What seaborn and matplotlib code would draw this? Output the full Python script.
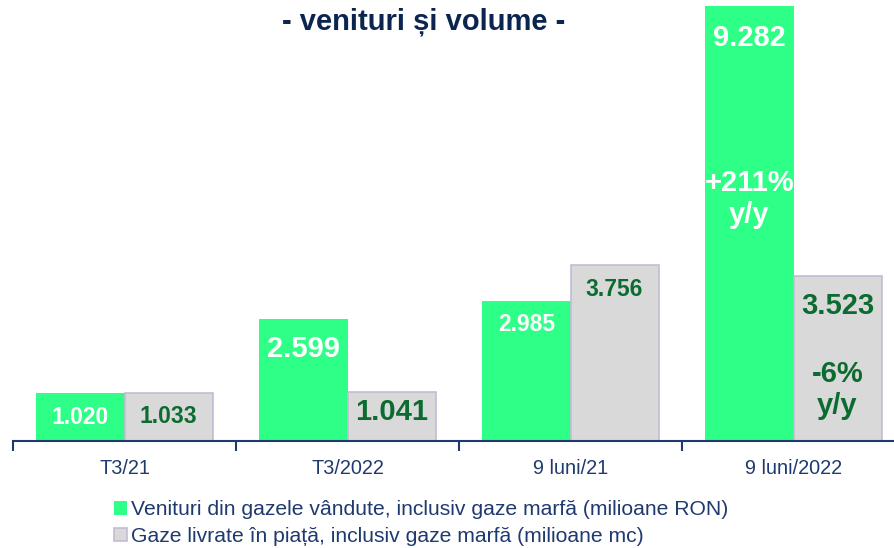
import matplotlib
matplotlib.use("Agg")
import matplotlib.pyplot as plt
import seaborn as sns
import pandas as pd
from matplotlib.patches import Patch

# --- Data ---
CATEGORIES = ["T3/21", "T3/2022", "9 luni/21", "9 luni/2022"]
SERIES = [
    "Venituri din gazele vândute, inclusiv gaze marfă (milioane RON)",
    "Gaze livrate în piață, inclusiv gaze marfă (milioane mc)",
]
revenue = [1020, 2599, 2985, 9282]
volume = [1033, 1041, 3756, 3523]
change_labels = ["+211%\ny/y", "-6%\ny/y"]
TITLE = "- venituri și volume -"

# --- Style ---
GREEN = "#2dff87"
GREY = "#d9d9d9"
GREY_EDGE = "#c4bcd4"
NAVY = "#1f3a6e"
TITLE_NAVY = "#0b2550"
DARK_GREEN = "#0b6b30"
BIG = 21
SMALL = 16.5
# font size and offset (px below bar top) per label
green_style = [(SMALL, 24), (BIG, 30), (SMALL, 24), (BIG, 32)]
grey_style = [(SMALL, 24), (BIG, 20), (SMALL, 25), (BIG, 30)]

sns.set_theme(style="white")
plt.rcParams["font.family"] = ["Liberation Sans", "DejaVu Sans"]

df = pd.DataFrame({
    "cat": CATEGORIES * 2,
    "series": [SERIES[0]] * 4 + [SERIES[1]] * 4,
    "value": revenue + volume,
})

fig = plt.figure(figsize=(8.94, 5.48), dpi=100)
ax = fig.add_axes([13 / 894, 107 / 548, 892 / 894, 441 / 548])

sns.barplot(data=df, x="cat", y="value", hue="series", order=CATEGORIES,
            hue_order=SERIES, palette=[GREEN, GREY], width=0.79,
            saturation=1, legend=False, ax=ax)

for bar in ax.containers[1]:
    bar.set_edgecolor(GREY_EDGE)
    bar.set_linewidth(1.2)
for bar in ax.containers[0]:
    bar.set_linewidth(0)

ax.set_xlim(-0.5, 3.5)
ax.set_ylim(0, 9400)

# value labels
for bars, vals, styles, color in [
    (ax.containers[0], revenue, green_style, "white"),
    (ax.containers[1], volume, grey_style, DARK_GREEN),
]:
    for bar, v, (fs, off) in zip(bars, vals, styles):
        cx = bar.get_x() + bar.get_width() / 2
        ax.annotate(f"{v:,}".replace(",", "."), (cx, bar.get_height()),
                    xytext=(0, -off * 0.72), textcoords="offset points",
                    ha="center", va="center", fontsize=fs,
                    fontweight="bold", color=color)

# y/y change labels inside last group
gb = ax.containers[0][3]
ax.text(gb.get_x() + gb.get_width() / 2, gb.get_height() * 0.556,
        change_labels[0], ha="center", va="center", fontsize=BIG,
        fontweight="bold", color="white", linespacing=1.2)
rb = ax.containers[1][3]
ax.text(rb.get_x() + rb.get_width() / 2, rb.get_height() * 0.31,
        change_labels[1], ha="center", va="center", fontsize=BIG,
        fontweight="bold", color=DARK_GREEN, linespacing=1.2)

# axes styling
for side in ["top", "right", "left"]:
    ax.spines[side].set_visible(False)
ax.spines["bottom"].set_color(NAVY)
ax.spines["bottom"].set_linewidth(1.5)
ax.set_yticks([])
ax.set_xlabel("")
ax.set_ylabel("")
ax.set_xticks(range(len(CATEGORIES)))
ax.set_xticklabels(CATEGORIES, fontsize=14.3, color=NAVY)
ax.set_xticks([-0.5, 0.5, 1.5, 2.5, 3.5], minor=True)
ax.tick_params(axis="x", which="major", length=0, pad=13)
ax.tick_params(axis="x", which="minor", length=7, width=1.5, color=NAVY,
               direction="out", bottom=True)

fig.text(424 / 894, 1 - 22 / 548, TITLE, ha="center", va="center",
         fontsize=21, fontweight="bold", color=TITLE_NAVY)

handles = [Patch(facecolor=GREEN, edgecolor="none"),
           Patch(facecolor=GREY, edgecolor=GREY_EDGE, linewidth=1.2)]
fig.legend(handles, SERIES, loc="upper left",
           bbox_to_anchor=(106 / 894, 1 - 492 / 548), frameon=False,
           fontsize=15.2, labelcolor=NAVY, handlelength=0.6, handleheight=0.6,
           handletextpad=0.2, labelspacing=0.36, borderaxespad=0)

fig.savefig("out.png", dpi=100)
